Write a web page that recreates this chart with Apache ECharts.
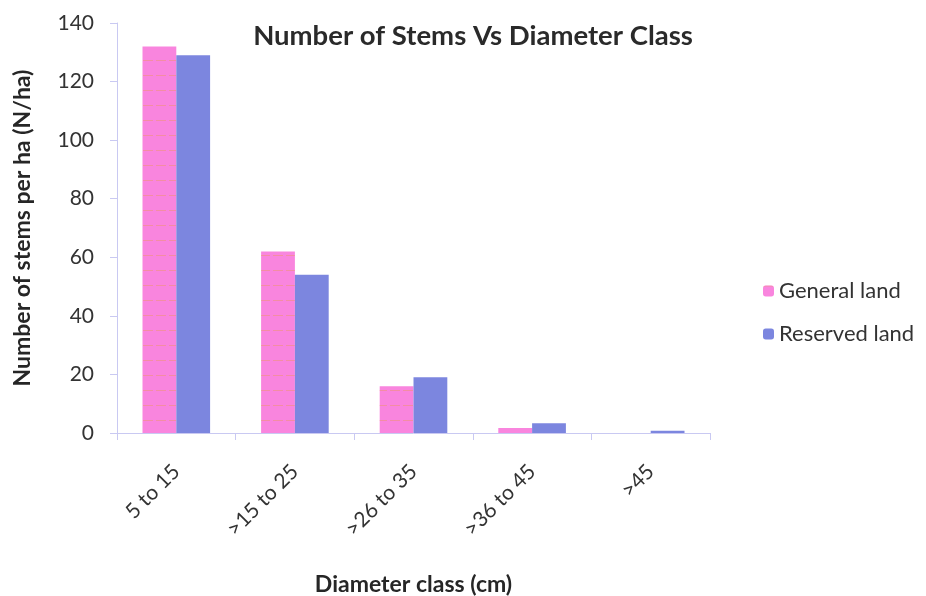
<!DOCTYPE html>
<html>
<head>
<meta charset="utf-8">
<script src="https://cdn.jsdelivr.net/npm/echarts@6/dist/echarts.min.js"></script>
<style>
  html, body { margin: 0; padding: 0; background: #fff; }
  #chart { width: 926px; height: 596px; }
</style>
</head>
<body>
<div id="chart"></div>
<script>
// Diameter classes and stem counts (N/ha)
const categories = ['5 to 15', '>15 to 25', '>26 to 35', '>36 to 45', '>45'];
const generalLand = [132, 62, 16, 1.7, 0];
const reservedLand = [129, 54, 19, 3.3, 0.8];
const yTicks = { min: 0, max: 140, interval: 20 };

const FONT = 'Lato, "Open Sans", sans-serif';
const axisColor = '#C9C9F2';

const chart = echarts.init(document.getElementById('chart'));
chart.setOption({
  animation: false,
  backgroundColor: '#ffffff',
  title: {
    text: 'Number of Stems Vs Diameter Class',
    left: 468, top: 17, textAlign: 'center',
    textStyle: { fontFamily: FONT, fontSize: 27.5, fontWeight: 'bold', color: '#2a2a2a' }
  },
  legend: {
    orient: 'vertical',
    left: 758, top: 275,
    itemWidth: 11, itemHeight: 11, itemGap: 21,
    textStyle: { fontFamily: FONT, fontSize: 22, color: '#333' },
    data: ['General land', 'Reserved land']
  },
  grid: { left: 117, right: 216, top: 23, bottom: 163, containLabel: false, outerBoundsMode: 'none' },
  xAxis: {
    type: 'category',
    data: categories,
    name: 'Diameter class (cm)',
    nameLocation: 'middle',
    nameGap: 140,
    nameTextStyle: { fontFamily: FONT, fontSize: 23, fontWeight: 'bold', color: '#262626' },
    axisLine: { lineStyle: { color: axisColor, width: 1 } },
    axisTick: { show: true, length: 7, lineStyle: { color: axisColor } },
    axisLabel: { rotate: 45, margin: 35, fontFamily: FONT, fontSize: 21, color: '#333' }
  },
  yAxis: {
    type: 'value',
    min: yTicks.min, max: yTicks.max, interval: yTicks.interval,
    name: 'Number of stems per ha (N/ha)',
    nameLocation: 'middle',
    nameGap: 83,
    nameTextStyle: { fontFamily: FONT, fontSize: 23, fontWeight: 'bold', color: '#262626' },
    axisLine: { show: true, lineStyle: { color: axisColor, width: 1 } },
    axisTick: { show: true, length: 7, lineStyle: { color: axisColor } },
    splitLine: { show: false },
    axisLabel: { margin: 23, fontFamily: FONT, fontSize: 21, color: '#333' }
  },
  series: [
    {
      name: 'General land',
      type: 'bar',
      data: generalLand,
      barGap: '0%',
      barCategoryGap: '43%',
      itemStyle: {
        color: '#F985DE',
        decal: {
          symbol: 'rect',
          symbolSize: 1,
          dashArrayX: [[10, 3]],
          dashArrayY: [1, 14],
          color: 'rgba(235,150,90,0.45)',
          rotation: 0
        }
      }
    },
    {
      name: 'Reserved land',
      type: 'bar',
      data: reservedLand,
      itemStyle: { color: '#7C86DF' }
    }
  ]
});
</script>
</body>
</html>
